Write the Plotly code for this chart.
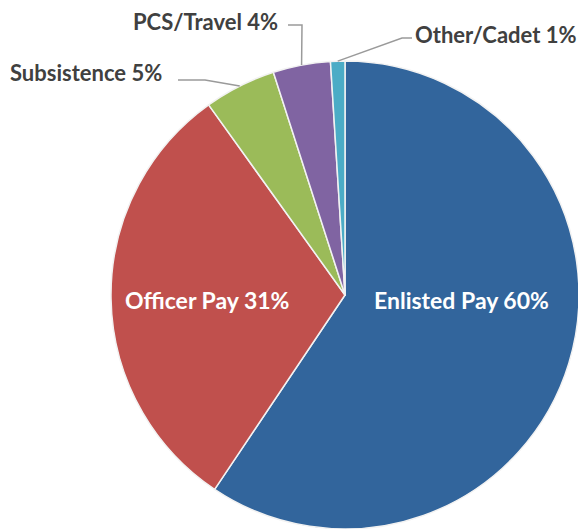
import math

import plotly.graph_objects as go

W, H = 586, 529
OFF = 8  # page body margin shifts the figure by 8px; positions below are in page pixels

labels = ["Enlisted Pay", "Officer Pay", "Subsistence", "PCS/Travel", "Other/Cadet"]
values = [60, 31, 5, 4, 1]
colors = ["#32659C", "#C0504D", "#9BBB59", "#8064A2", "#4BACC6"]

# label placement in page pixels: (x, y, anchor); outside ones get a leader line
label_pos = {
    "Enlisted Pay": dict(x=461, y=300, anchor="center"),
    "Officer Pay": dict(x=207, y=300, anchor="center"),
    "Subsistence": dict(x=9, y=73, anchor="left", start=(178, 80), knee=(205, 80)),
    "PCS/Travel": dict(x=132, y=21, anchor="left", start=(288, 25), knee=(302, 25)),
    "Other/Cadet": dict(x=414, y=34, anchor="left", start=(412, 38), knee=(402, 38)),
}

CX, CY, R = 345, 295, 234
FONT = "Lato, 'Open Sans', sans-serif"


def px(x, y):
    return (x - OFF) / W, 1 - (y - OFF) / H


fig = go.Figure(go.Pie(
    labels=labels, values=values, sort=False, direction="clockwise", rotation=0,
    marker=dict(colors=colors, line=dict(color="#f2f2f2", width=1.5)),
    textinfo="none",
    domain=dict(x=[(CX - OFF - R) / W, (CX - OFF + R) / W],
                y=[(H - (CY - OFF) - R) / H, (H - (CY - OFF) + R) / H]),
    hoverinfo="label+value", showlegend=False,
))

total = sum(values)
cum = 0
for lab, val in zip(labels, values):
    start, end = cum / total, (cum + val) / total
    cum += val
    p = label_pos[lab]
    lx, ly = px(p["x"], p["y"])
    if "knee" in p:
        th = math.pi * (start + end)
        ax, ay = CX + R * math.sin(th), CY - R * math.cos(th)
        pts = [p["start"], p["knee"], (ax, ay)]
        path = "M " + " L ".join(f"{px(*q)[0]},{px(*q)[1]}" for q in pts)
        fig.add_shape(type="path", path=path, xref="paper", yref="paper",
                      line=dict(color="#9a9a9a", width=1.5))
        font = dict(family=FONT, size=22, color="#404040", weight="bold")
    else:
        font = dict(family=FONT, size=23, color="white", weight="bold")
    fig.add_annotation(x=lx, y=ly, xref="paper", yref="paper", xanchor=p["anchor"],
                       yanchor="middle", text=f"{lab} {val}%", showarrow=False,
                       font=font, borderpad=0)

fig.update_layout(
    width=W, height=H, margin=dict(l=0, r=0, t=0, b=0),
    paper_bgcolor="white", plot_bgcolor="white",
)

fig.write_html("out.html")
